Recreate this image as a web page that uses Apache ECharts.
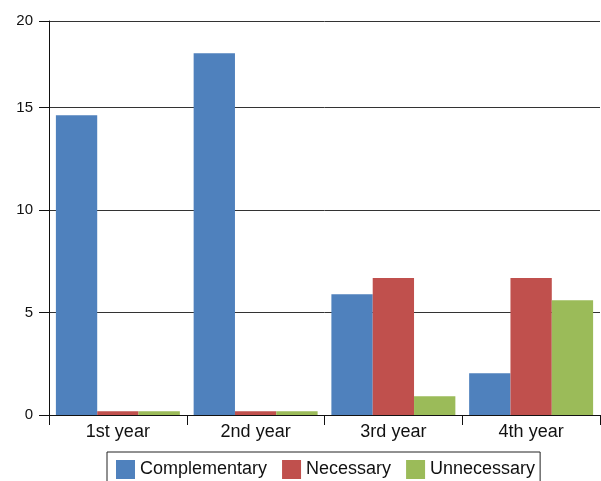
<!DOCTYPE html>
<html>
<head>
<meta charset="utf-8">
<script src="https://cdn.jsdelivr.net/npm/echarts@6/dist/echarts.min.js"></script>
<style>
html,body{margin:0;padding:0;background:#fff;}
#chart{width:601px;height:481px;}
</style>
</head>
<body>
<div id="chart"></div>
<script>
var categories = ['1st year', '2nd year', '3rd year', '4th year'];
var complementary = [14.63, 17.65, 5.89, 2.04];
var necessary = [0.18, 0.18, 6.69, 6.69];
var unnecessary = [0.18, 0.18, 0.91, 5.60];
var seriesNames = ['Complementary', 'Necessary', 'Unnecessary'];
var seriesColors = ['#4F81BD', '#C0504D', '#9BBB59'];
// axis top edge sits just above 19.2 and is labelled "20" in the reference
var yMax = 19.23;
var yTopLabel = '20';

var chart = echarts.init(document.getElementById('chart'), null, {renderer: 'canvas'});
var font = '"Liberation Sans", Arial, Helvetica, sans-serif';
function mk(name, data, color) {
  return {
    name: name, type: 'bar', data: data,
    barGap: '0%', barCategoryGap: '10%',
    itemStyle: {color: color},
    emphasis: {disabled: true},
    animation: false
  };
}
chart.setOption({
  animation: false,
  textStyle: {fontFamily: font},
  grid: {left: 49, right: 1, top: 21, bottom: 66, containLabel: false},
  legend: {
    data: seriesNames.map(function (n) { return {name: n, icon: 'rect'}; }),
    left: 107, top: 452,
    itemWidth: 19, itemHeight: 19, itemGap: 15,
    padding: [8, 5, 8, 9],
    borderColor: '#222', borderWidth: 1,
    textStyle: {fontSize: 18, color: '#111', fontFamily: font},
    selectedMode: false
  },
  xAxis: {
    type: 'category', data: categories,
    axisLine: {lineStyle: {color: '#111', width: 1}},
    axisTick: {show: true, length: 10, lineStyle: {color: '#111'}},
    axisLabel: {fontSize: 18, color: '#111', margin: 8, fontFamily: font},
    splitLine: {show: false}
  },
  yAxis: {
    type: 'value', min: 0, max: yMax, interval: 5,
    axisLine: {show: true, lineStyle: {color: '#111', width: 1}},
    axisTick: {show: true, length: 10, lineStyle: {color: '#111'}},
    axisLabel: {
      fontSize: 15, color: '#111', margin: 16, fontFamily: font,
      showMaxLabel: true,
      formatter: function (v) { return v > 19 ? yTopLabel : String(v); }
    },
    splitLine: {show: true, lineStyle: {color: '#333', width: 1}}
  },
  series: [
    mk(seriesNames[0], complementary, seriesColors[0]),
    mk(seriesNames[1], necessary, seriesColors[1]),
    mk(seriesNames[2], unnecessary, seriesColors[2])
  ]
});
</script>
</body>
</html>
